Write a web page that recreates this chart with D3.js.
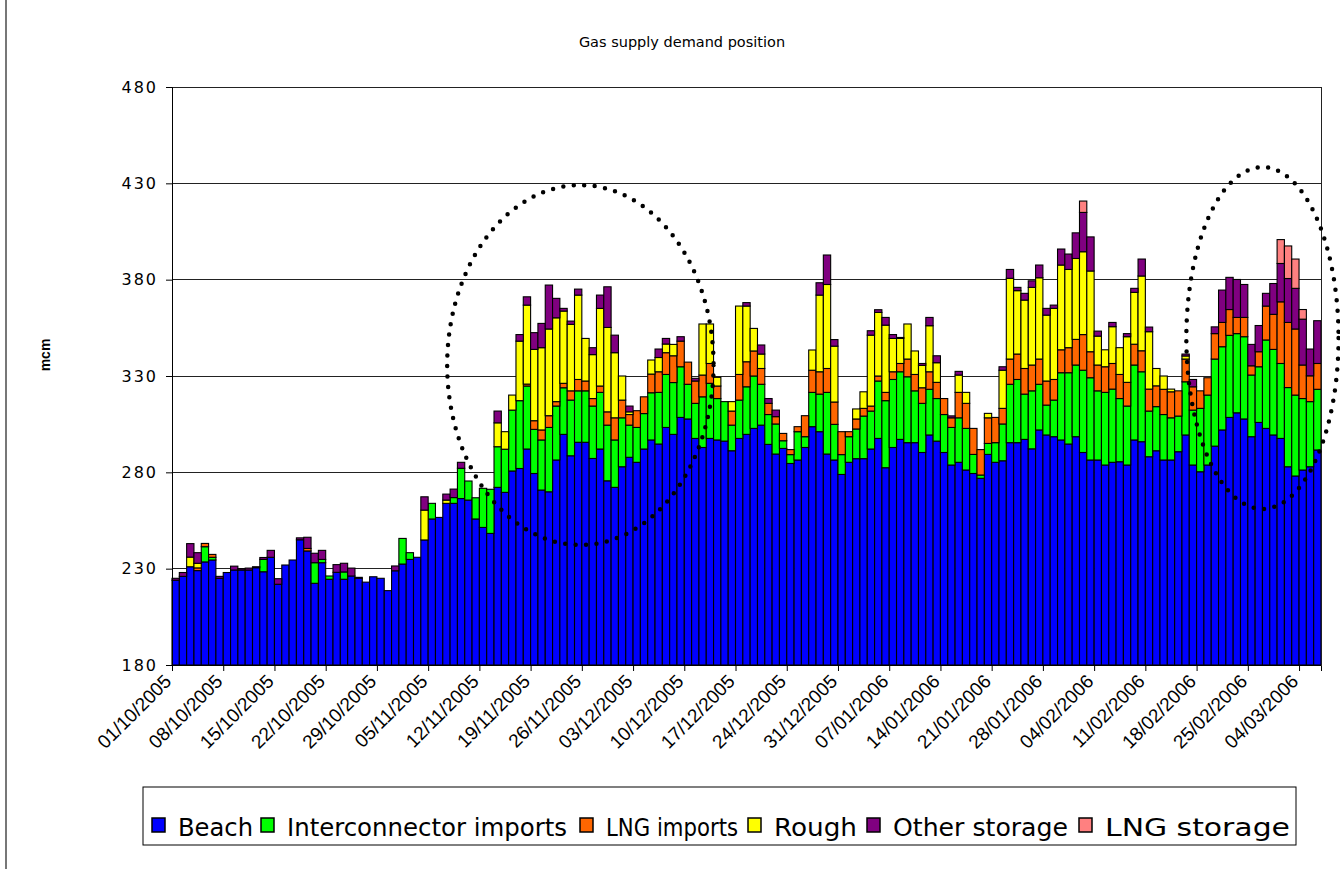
<!DOCTYPE html>
<html>
<head>
<meta charset="utf-8">
<script src="https://cdn.jsdelivr.net/npm/d3@7"></script>
<style>
  body { margin: 0; background: #fff; }
  svg { display: block; }
</style>
</head>
<body>
<div id="chart"></div>
<script>
// daily categories, 01/10/2005 .. 06/03/2006
var startDay = new Date(2005, 9, 1);
var days = d3.timeDay.range(startDay, new Date(2006, 2, 7));
var fmt = d3.timeFormat("%d/%m/%Y");

var seriesNames = ["Beach", "Interconnector imports", "LNG imports", "Rough", "Other storage", "LNG storage"];
var colors = ["#0000ff", "#00ff00", "#ff6600", "#ffff00", "#800080", "#ff8080"];

var beach = [224,226,231,229,233.5,234.5,225,228,229.3,229.3,229.3,230.5,228.4,235.9,221.9,231.9,234.5,245,239.2,222.4,
  233.1,224.5,228.1,224.5,226.2,225,223,225.8,225,218.6,228.9,232.4,234.8,235.9,244.9,255.8,256.6,263.9,263.9,266.4,
  265.6,255.8,251.4,248.3,272.2,269.6,280.7,282,292.1,279.4,270.8,269.9,286.4,299.7,288.6,295.6,295.6,287.2,292.1,275.6,
  272.2,282.9,287.8,285.2,292.1,296.8,294.7,303.3,299.7,308.5,307.7,297.6,292.9,297.6,296.8,296.2,291.2,297.6,299.7,302.8,
  304.5,294.5,289.5,292.4,284.6,286.4,292.9,303.7,301.1,289.5,286.4,278.9,285.2,287.1,287.1,292.1,297.6,282.4,292.9,297.1,
  295.4,295.4,290.3,299.4,296.2,290.3,283.8,285.2,281.2,279.4,276.9,289.3,285.2,286,295.4,295.4,297.1,292.2,302,299.4,
  298.5,296.8,294.7,298.5,290.3,286.4,286.4,283.8,285.2,285.5,283.8,296.8,295.9,288.1,291.2,286.4,286.4,290.7,299.4,283.8,
  280.3,283.8,293.6,302,308.5,310.9,307.7,298.5,305.9,302.8,299.4,297.6,282.9,278.1,281.2,282.9,291.6];
var interconnector = [0,0,0,0,7.9,1.4,0,0,0,0,0,0,6.4,0,0,0,0,0,0,10.7,
  1.7,1.7,0,3.8,0,0,0,0,0,0,0,13.3,3.5,0,0,8.1,0,0,3,15.7,
  9.9,11,20.3,22.9,21.1,22.4,31.6,35.2,32.7,22.9,26,33.4,28,24.2,28.9,26.7,26.7,27.2,29.4,28.9,
  24.6,25.4,16.7,18.1,18.4,24.5,26.8,27.5,26.9,26.3,18,18.2,26.3,28.6,21.5,20.5,13.3,19.9,24.7,27.2,
  21.2,15.5,15.6,4,4.6,14.7,5.6,17.8,19.5,32,18.5,10.3,13.3,15.4,22.1,19.7,29.8,34.8,35.3,35.1,
  34.2,26.9,25.5,23.7,22.1,19.7,19.5,23.1,21.6,9.9,1.7,5.7,10.2,19.1,30.3,32.8,23.5,30.1,23.7,15.5,
  19,34.9,37,37.2,42.7,42.7,35.9,37.7,38,32.8,30.6,38.9,36.3,23.7,22.9,23.6,21.9,18.5,27.6,28.5,
  32.9,36.3,45.2,43.2,42.6,41.1,42.7,32,28.9,45.9,44.4,38.9,41.1,42,37.1,33.8,31.5];
var lngImports = [0,0,0,1.4,1.7,1.5,0,0,0,0,0,0,0,0,0,0,0,0,1.3,0,
  0,0,0,0,0,0,0,0,0,0,0,0,0,0,0,0,0,0,0,0,
  0,0,0,0,0,0,0,0,1,4.5,5.2,6.1,2.3,2.3,4.8,5.9,5.1,3.9,3.3,6.9,
  11.5,9.2,5.5,8.7,8.7,9.7,10.7,11.3,13.9,13.3,11.5,11.6,11.3,10.3,6.5,0,7.3,13.3,13,13,
  8.2,5.8,3.8,3.8,2.6,2.6,10.9,11.5,11.6,12.4,11.6,11.9,2.6,5.2,4,2.6,2.6,4.3,4,4.3,
  9.2,8.5,8.1,9.1,8.4,8.3,5,13.2,13,13.5,13.2,13.3,13.1,8.1,13.1,13.2,13.3,13.4,13.1,12.5,
  10.7,11.9,13,13.3,18.5,13.5,13.4,13.3,13.3,12.5,12.3,10.8,10.9,11.4,10.8,13.1,13.5,13.1,11.8,12.1,
  9.1,9,13.2,12.6,13.4,8.4,10,4.8,7.8,17.6,18.2,32,33.8,34.3,17.4,13.4,13.4];
var rough = [0,0,5,2.4,0,0,0,0,0,0,0,0,0,0,0,0,0,0,0,0,
  0,0,0,0,0,0,0,0,0,0,0,0,0,0,15.5,0,0,1.7,0,0,
  0,0,0,0,12.4,9.1,7.8,30.9,41,37,42.7,45,43.5,37.5,34.5,43.8,22.1,22.8,40.3,43.8,
  33.8,12.5,1.4,0,0,7.3,7.4,4.5,5.9,0,0,0,26.5,20.5,4.5,0,4.9,35.5,28.9,11.7,
  7.5,0,0,0,0,0,0,10.5,39.8,43.6,29,0,0,5.2,8.6,36.8,33,34.9,17.3,13,
  18.2,12.2,11.6,23.9,10.2,0,0,9,5.7,0,0,2.3,0,19.8,41.9,32.9,35.5,40.3,42.2,34.2,
  36.9,44,40.6,42,43,41.9,15,8.8,19.1,13.9,23.7,26.9,38.8,29.8,9,6.9,1.4,0,1.6,0,
  0,0,0,0,0,0,0,0,0,0,0,0,0,0,0,0,0];
var otherStorage = [1,2,7,5.5,0,0,1,0,2,0.7,1,0.5,1,3.6,2.9,0,0,1,5.8,4.9,
  4.7,0,4,4.5,4.1,0.5,0,0,0,0,2.5,0,0,0,6.9,0,0,3.1,4.4,3.1,
  0,0,0,0,6.1,0,0,3.4,4.3,8.7,12.6,22.8,10.1,1.4,1.7,3.1,0,3.6,6.9,21.1,
  9.1,0,3,0,0,0,4.4,2.9,0,2.3,0,1.4,0,0,0,0,0,0,1.8,0,
  4.7,2.5,3.4,0,0,0,0,0,6.4,15.3,3.4,0,0,0,0,2.3,1.4,4,2,0.5,
  0,0,1,4.3,3.6,0,1,1.9,0,0,0,0,0,1.8,4.6,1.7,3.5,3.4,6.6,3.5,
  1.7,8.3,8,13.3,20.4,17.7,2.6,0,2.2,0,1.6,2.1,8.8,2.4,0,0,0,0,1,3.8,
  0,0,3.5,16.8,16.7,19.7,17.1,11.1,13.6,6.6,16,19.9,22.8,21.1,23.8,13.9,22.2];
var lngStorage = [0,0,0,0,0,0,0,0,0,0,0,0,0,0,0,0,0,0,0,0,
  0,0,0,0,0,0,0,0,0,0,0,0,0,0,0,0,0,0,0,0,
  0,0,0,0,0,0,0,0,0,0,0,0,0,0,0,0,0,0,0,0,
  0,0,0,0,0,0,0,0,0,0,0,0,0,0,0,0,0,0,0,0,
  0,0,0,0,0,0,0,0,0,0,0,0,0,0,0,0,0,0,0,0,
  0,0,0,0,0,0,0,0,0,0,0,0,0,0,0,0,0,0,0,0,
  0,0,0,0,5.9,0,0,0,0,0,0,0,0,0,0,0,0,0,0,0,
  0,0,0,0,0,0,0,0,0,0,0,12.4,16.9,15.2,5,0,0];
var yTicks = [180, 230, 280, 330, 380, 430, 480];

// dotted circles drawn on the chart: centre (day index, mcm), radii (days, mcm)
var rings = [
  { cx: 55.8, cy: 335.7, rx: 18.2, ry: 93.4 },
  { cx: 149.0, cy: 349.7, rx: 10.4, ry: 88.7 }
];

var width = 1340, height = 869;
var plotLeft = 172, plotRight = 1321, plotTop = 87, plotBottom = 665;

var rows = days.map(function(d, i) {
  return { i: i, date: d, s0: beach[i], s1: interconnector[i], s2: lngImports[i],
           s3: rough[i], s4: otherStorage[i], s5: lngStorage[i] };
});

var svg = d3.select("#chart").append("svg")
  .attr("width", width)
  .attr("height", height);

svg.append("rect").attr("width", width).attr("height", height).attr("fill", "#fff");

// outer chart edge
svg.append("line")
  .attr("x1", 6).attr("x2", 6).attr("y1", 0).attr("y2", height)
  .attr("stroke", "#777").attr("stroke-width", 2);

var x = d3.scaleBand().domain(d3.range(days.length)).range([plotLeft, plotRight]).padding(0);
var xLin = d3.scaleLinear().domain([0, days.length]).range([plotLeft, plotRight]);
var y = d3.scaleLinear().domain([180, 480]).range([plotBottom, plotTop]).clamp(true);

// gridlines
svg.append("g")
  .selectAll("line")
  .data(yTicks.slice(1))
  .join("line")
    .attr("x1", plotLeft).attr("x2", plotRight)
    .attr("y1", function(d) { return y(d); })
    .attr("y2", function(d) { return y(d); })
    .attr("stroke", "#222").attr("stroke-width", 1)
    .attr("shape-rendering", "crispEdges");

var stack = d3.stack().keys(["s0", "s1", "s2", "s3", "s4", "s5"]);
var layers = stack(rows);

svg.append("g")
  .selectAll("g")
  .data(layers)
  .join("g")
    .attr("fill", function(d, k) { return colors[k]; })
  .selectAll("rect")
  .data(function(d) { return d.filter(function(p) { return p[1] - p[0] > 0; }); })
  .join("rect")
    .attr("x", function(d) { return x(d.data.i); })
    .attr("width", x.bandwidth())
    .attr("y", function(d) { return y(d[1]); })
    .attr("height", function(d) { return Math.max(0, y(d[0]) - y(d[1])); })
    .attr("stroke", "#000")
    .attr("stroke-width", 1.1);

// plot frame, right side
svg.append("line").attr("x1", plotRight).attr("x2", plotRight).attr("y1", plotTop).attr("y2", plotBottom)
  .attr("stroke", "#222").attr("stroke-width", 1).attr("shape-rendering", "crispEdges");

// y axis
var yAxis = svg.append("g")
  .attr("transform", "translate(" + plotLeft + ",0)")
  .call(d3.axisLeft(y).tickValues(yTicks).tickSize(6).tickPadding(8).tickFormat(d3.format("d")));
yAxis.select(".domain").attr("stroke", "#000");
yAxis.selectAll(".tick line").attr("stroke", "#000");
yAxis.selectAll("text")
  .attr("font-family", "'DejaVu Sans', Verdana, sans-serif")
  .attr("font-size", 16)
  .attr("letter-spacing", 2)
  .attr("fill", "#000");

// x axis: tick every week at the category boundary
var weekIdx = d3.range(0, days.length, 7);
var xAxis = svg.append("g")
  .attr("transform", "translate(0," + plotBottom + ")")
  .call(d3.axisBottom(xLin).tickValues(weekIdx).tickSize(6).tickFormat(""));
xAxis.select(".domain").attr("stroke", "#000");
xAxis.selectAll(".tick line").attr("stroke", "#000");

svg.append("g")
  .selectAll("text")
  .data(weekIdx)
  .join("text")
    .attr("transform", function(i) { return "translate(" + (xLin(i) - 3) + "," + (plotBottom + 14) + ") rotate(-45)"; })
    .attr("text-anchor", "end")
    .attr("dominant-baseline", "middle")
    .attr("font-family", "'Liberation Sans', Arial, sans-serif")
    .attr("font-size", 19)
    .text(function(i) { return fmt(days[i]); });

// title
svg.append("text")
  .attr("x", 682).attr("y", 47)
  .attr("text-anchor", "middle")
  .attr("font-family", "'DejaVu Sans', Verdana, sans-serif")
  .attr("font-size", 14.5)
  .text("Gas supply demand position");

// y axis title
svg.append("text")
  .attr("transform", "translate(50,355) rotate(-90)")
  .attr("text-anchor", "middle")
  .attr("font-family", "'Liberation Sans', Arial, sans-serif")
  .attr("font-weight", "bold")
  .attr("font-size", 14)
  .text("mcm");

// dotted rings
svg.append("g")
  .selectAll("ellipse")
  .data(rings)
  .join("ellipse")
    .attr("cx", function(d) { return xLin(d.cx); })
    .attr("cy", function(d) { return y(d.cy); })
    .attr("rx", function(d) { return xLin(d.rx) - xLin(0); })
    .attr("ry", function(d) { return y(180) - y(180 + d.ry); })
    .attr("fill", "none")
    .attr("stroke", "#000")
    .attr("stroke-width", 4.5)
    .attr("stroke-linecap", "round")
    .attr("stroke-dasharray", "0 10.5");

// legend
var legend = svg.append("g");
legend.append("rect")
  .attr("x", 143).attr("y", 787).attr("width", 1153).attr("height", 58)
  .attr("fill", "#fff").attr("stroke", "#000").attr("stroke-width", 1);

var legendX = [152, 261, 580, 748, 867, 1079];
var legendWidths = [75, 280, 132, 83, 175, 185];
seriesNames.forEach(function(name, k) {
  legend.append("rect")
    .attr("x", legendX[k]).attr("y", 818).attr("width", 13).attr("height", 14)
    .attr("fill", colors[k]).attr("stroke", "#000").attr("stroke-width", 1.5);
  legend.append("text")
    .attr("x", legendX[k] + 26).attr("y", 836)
    .attr("font-family", "'Liberation Sans Narrow', 'DejaVu Sans Condensed', 'Liberation Sans', sans-serif")
    .attr("font-size", 24)
    .attr("textLength", legendWidths[k])
    .attr("lengthAdjust", "spacingAndGlyphs")
    .text(name);
});
</script>
</body>
</html>
